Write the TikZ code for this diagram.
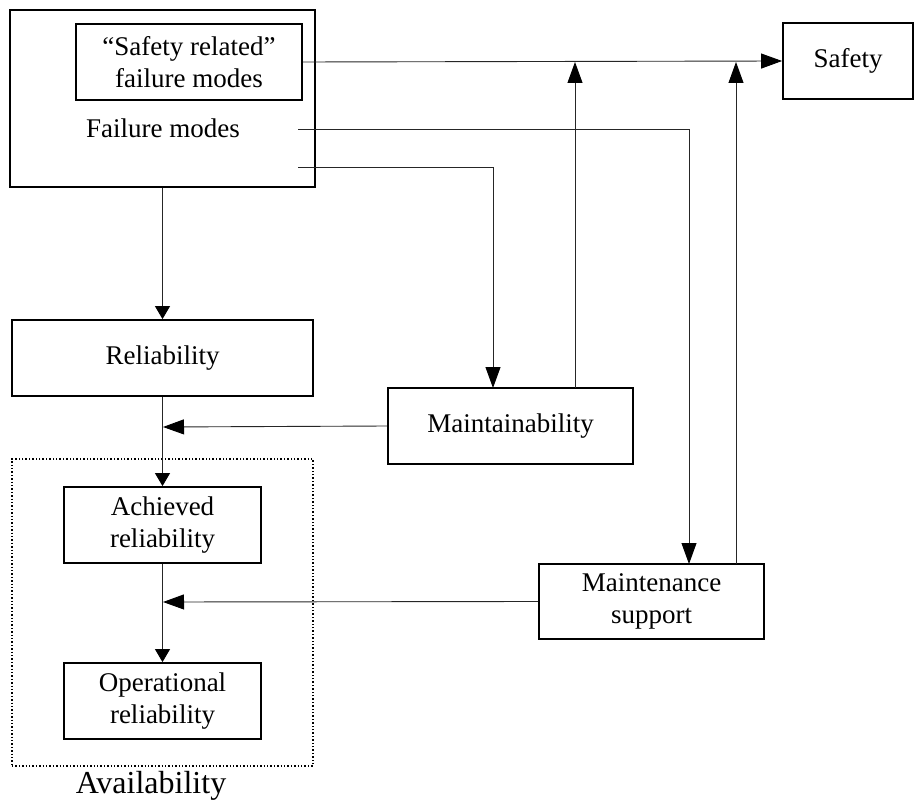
\documentclass[tikz,border=0pt]{standalone}
\usepackage{fontspec}
\setmainfont{Liberation Serif}
\usetikzlibrary{arrows.meta,calc}
\begin{document}
\begin{tikzpicture}[x=1pt,y=-1pt,
  box/.style={draw,line width=1.8pt,rectangle,align=center,inner sep=0pt,
    font=\fontsize{27}{32}\selectfont},
  link/.style={line width=0.9pt,draw=black!85},
  arr/.style={link,-{Triangle[length=21pt,width=15pt,color=black]}},
  arrshort/.style={link,-{Triangle[length=13pt,width=15pt,color=black]}},
  label/.style={inner sep=0pt,font=\fontsize{27}{32}\selectfont}]
\useasboundingbox (0,0) rectangle (915,802);

% boxes
\node[box,minimum width=305pt,minimum height=177pt] (fm) at (162.5,98.5) {};
\node[box,minimum width=226pt,minimum height=76pt] (sr) at (189,62)
  {“Safety related”\\failure modes};
\node[label,anchor=base] (fmtext) at (163,138) {Failure modes};
\node[box,minimum width=130pt,minimum height=76pt] (safety) at (848,61) {Safety};
\node[box,minimum width=301pt,minimum height=76pt] (rel) at (162.5,358) {Reliability};
\node[box,minimum width=245pt,minimum height=76pt] (mtb) at (510.5,426) {Maintainability};
\node[box,minimum width=225pt,minimum height=75pt] (ms) at (651.5,601.5)
  {Maintenance\\support};
\node[box,minimum width=197pt,minimum height=76pt] (ach) at (162.5,525)
  {Achieved\\reliability};
\node[box,minimum width=197pt,minimum height=76pt] (op) at (162.5,701)
  {Operational\\reliability};
\node[draw,dotted,line width=1.4pt,minimum width=301pt,minimum height=307pt,
  inner sep=0pt] (avail) at (162.5,612.5) {};
\node[inner sep=0pt,anchor=base,font=\fontsize{32}{38}\selectfont]
  (availtext) at (151,793) {Availability};

% connector end points
\coordinate (fmA) at (298,129);
\coordinate (fmB) at (298,167);
\coordinate (msIn) at (689,564);
\coordinate (mtbIn) at (493,388);
\coordinate (upM) at (575,388);
\coordinate (upS) at (736,564);
\coordinate (joinR) at (163,427);
\coordinate (joinA) at (163,602);

% connectors
\draw[arr] (sr.east) -- (safety.west);
\draw[arr] (fmA) -- (fmA -| msIn) -- (msIn);
\draw[arr] (fmB) -- (fmB -| mtbIn) -- (mtbIn);
\draw[arr] (upM) -- (upM |- sr.east);
\draw[arr] (upS) -- (upS |- sr.east);
\draw[arrshort] (fm.south) -- (rel.north);
\draw[arrshort] (rel.south) -- (ach.north);
\draw[arrshort] (ach.south) -- (op.north);
\draw[arr] (mtb.west) -- (joinR);
\draw[arr] (ms.west) -- (joinA);
\end{tikzpicture}
\end{document}
